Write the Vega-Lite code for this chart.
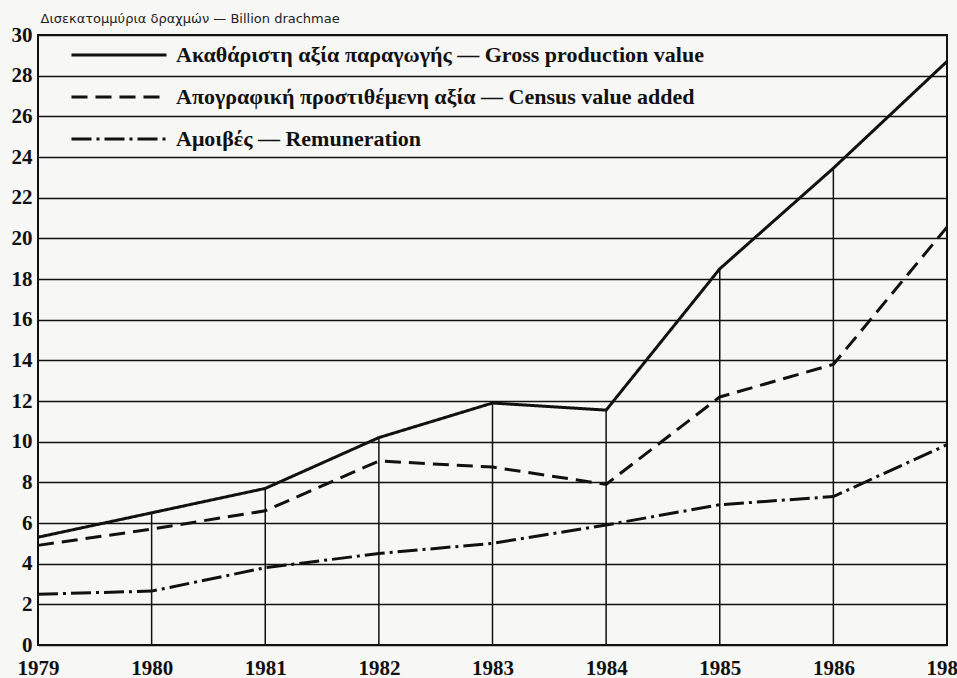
{
  "$schema": "https://vega.github.io/schema/vega-lite/v6.json",
  "width": 909,
  "height": 610,
  "autosize": {"type": "none"},
  "padding": {"left": 38, "top": 35, "right": 10, "bottom": 33},
  "background": "#f7f7f5",
  "config": {
    "view": {"stroke": "#111", "strokeWidth": 2},
    "axis": {"labelFont": "Liberation Serif", "labelFontWeight": "bold", "labelFontSize": 21, "labelColor": "#111"}
  },
  "data": {"values": [
    {"year": 1979, "series": "Ακαθάριστη αξία παραγωγής — Gross production value", "value": 5.3},
    {"year": 1980, "series": "Ακαθάριστη αξία παραγωγής — Gross production value", "value": 6.5},
    {"year": 1981, "series": "Ακαθάριστη αξία παραγωγής — Gross production value", "value": 7.7},
    {"year": 1982, "series": "Ακαθάριστη αξία παραγωγής — Gross production value", "value": 10.2},
    {"year": 1983, "series": "Ακαθάριστη αξία παραγωγής — Gross production value", "value": 11.9},
    {"year": 1984, "series": "Ακαθάριστη αξία παραγωγής — Gross production value", "value": 11.55},
    {"year": 1985, "series": "Ακαθάριστη αξία παραγωγής — Gross production value", "value": 18.5},
    {"year": 1986, "series": "Ακαθάριστη αξία παραγωγής — Gross production value", "value": 23.45},
    {"year": 1987, "series": "Ακαθάριστη αξία παραγωγής — Gross production value", "value": 28.7},
    {"year": 1979, "series": "Απογραφική προστιθέμενη αξία — Census value added", "value": 4.9},
    {"year": 1980, "series": "Απογραφική προστιθέμενη αξία — Census value added", "value": 5.7},
    {"year": 1981, "series": "Απογραφική προστιθέμενη αξία — Census value added", "value": 6.6},
    {"year": 1982, "series": "Απογραφική προστιθέμενη αξία — Census value added", "value": 9.05},
    {"year": 1983, "series": "Απογραφική προστιθέμενη αξία — Census value added", "value": 8.75},
    {"year": 1984, "series": "Απογραφική προστιθέμενη αξία — Census value added", "value": 7.9},
    {"year": 1985, "series": "Απογραφική προστιθέμενη αξία — Census value added", "value": 12.2},
    {"year": 1986, "series": "Απογραφική προστιθέμενη αξία — Census value added", "value": 13.8},
    {"year": 1987, "series": "Απογραφική προστιθέμενη αξία — Census value added", "value": 20.55},
    {"year": 1979, "series": "Αμοιβές — Remuneration", "value": 2.5},
    {"year": 1980, "series": "Αμοιβές — Remuneration", "value": 2.65},
    {"year": 1981, "series": "Αμοιβές — Remuneration", "value": 3.8},
    {"year": 1982, "series": "Αμοιβές — Remuneration", "value": 4.5},
    {"year": 1983, "series": "Αμοιβές — Remuneration", "value": 5.0},
    {"year": 1984, "series": "Αμοιβές — Remuneration", "value": 5.9},
    {"year": 1985, "series": "Αμοιβές — Remuneration", "value": 6.9},
    {"year": 1986, "series": "Αμοιβές — Remuneration", "value": 7.3},
    {"year": 1987, "series": "Αμοιβές — Remuneration", "value": 9.85}
  ]},
  "layer": [
    {
      "transform": [{"filter": "datum.series === 'Ακαθάριστη αξία παραγωγής — Gross production value'"}],
      "mark": {"type": "rule", "color": "#111", "strokeWidth": 1.5},
      "encoding": {
        "x": {"field": "year", "type": "quantitative", "scale": {"domain": [1979, 1987]},
          "axis": {"values": [1979, 1980, 1981, 1982, 1983, 1984, 1985, 1986, 1987], "format": "d", "title": null, "grid": false, "ticks": false, "domain": false, "labelPadding": 12, "labelFlush": false, "labelBound": false, "labelOverlap": false}},
        "y": {"field": "value", "type": "quantitative", "scale": {"domain": [0, 30]},
          "axis": {"values": [0, 2, 4, 6, 8, 10, 12, 14, 16, 18, 20, 22, 24, 26, 28, 30], "grid": true, "gridColor": "#111", "gridWidth": 1.4, "gridOpacity": 1, "ticks": false, "domain": false, "labelPadding": 6, "labelOverlap": false,
            "title": "Δισεκατομμύρια δραχμών — Billion drachmae", "titleAngle": 0, "titleAlign": "left", "titleBaseline": "middle", "titleX": 2, "titleY": -17, "titleFont": "DejaVu Sans", "titleFontSize": 13, "titleFontWeight": "normal", "titleColor": "#222"}},
        "y2": {"datum": 0}
      }
    },
    {
      "mark": {"type": "line", "color": "#111", "strokeWidth": 3},
      "encoding": {
        "x": {"field": "year", "type": "quantitative"},
        "y": {"field": "value", "type": "quantitative"},
        "strokeDash": {"field": "series", "type": "nominal",
          "scale": {"domain": ["Ακαθάριστη αξία παραγωγής — Gross production value", "Απογραφική προστιθέμενη αξία — Census value added", "Αμοιβές — Remuneration"], "range": [[1, 0], [16, 8], [20, 5, 3, 5]]},
          "legend": {"title": null, "orient": "none", "legendX": 32, "legendY": 9, "symbolType": "stroke", "symbolSize": 9025, "symbolStrokeWidth": 3, "symbolStrokeColor": "#111", "labelFont": "Liberation Serif", "labelFontWeight": "bold", "labelFontSize": 22, "labelColor": "#111", "labelOffset": 8, "labelLimit": 700, "clipHeight": 22, "rowPadding": 20}
        }
      }
    }
  ]
}
